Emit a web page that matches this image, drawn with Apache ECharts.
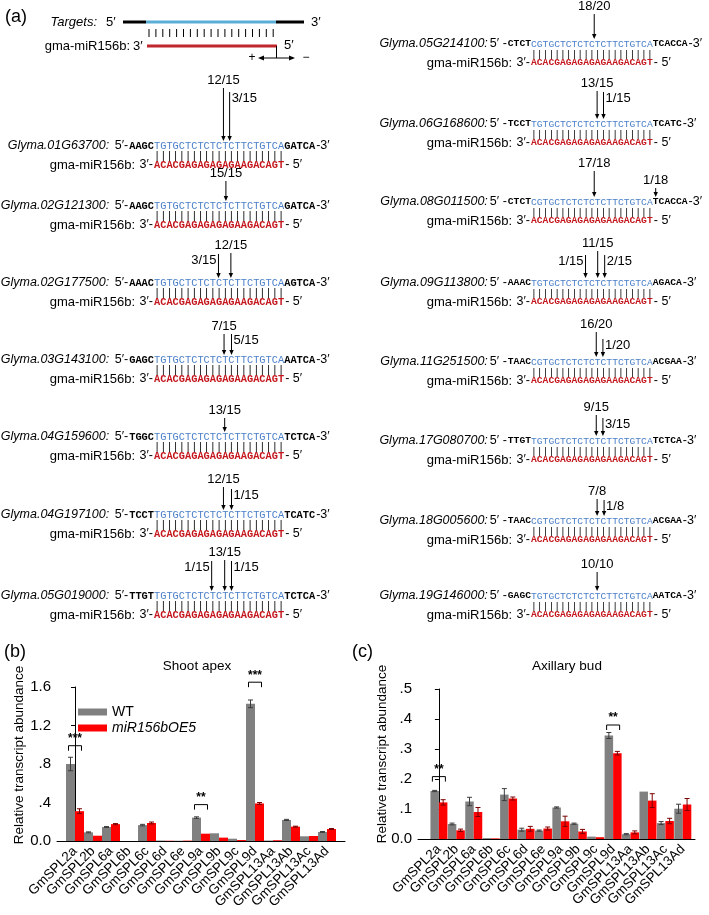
<!DOCTYPE html>
<html>
<head>
<meta charset="utf-8">
<script src="https://cdn.jsdelivr.net/npm/echarts@6/dist/echarts.min.js"></script>
<style>
  html, body {margin: 0; padding: 0; background: #fff;}
  #main {width: 709px; height: 915px;}
</style>
</head>
<body>
<div id="main"></div>
<script>
// categories and values
const genes = ['GmSPL2a', 'GmSPL2b', 'GmSPL6a', 'GmSPL6b', 'GmSPL6c', 'GmSPL6d', 'GmSPL6e', 'GmSPL9a',
               'GmSPL9b', 'GmSPL9c', 'GmSPL9d', 'GmSPL13Aa', 'GmSPL13Ab', 'GmSPL13Ac', 'GmSPL13Ad'];

// (b) shoot apex
const apexWT     = [0.80, 0.09, 0.145, 0.0, 0.165, 0.005, 0.003, 0.243, 0.08, 0.024, 1.425, 0.005, 0.219, 0.049, 0.094];
const apexWTErr  = [0.07, 0.005, 0.005, 0, 0.008, 0.001, 0.001, 0.008, 0.003, 0.002, 0.04, 0.001, 0.006, 0.003, 0.005];
const apexOE     = [0.31, 0.055, 0.175, 0.0, 0.187, 0.003, 0.004, 0.076, 0.035, 0.01, 0.39, 0.008, 0.149, 0.052, 0.125];
const apexOEErr  = [0.025, 0.004, 0.006, 0, 0.01, 0.001, 0.001, 0.004, 0.003, 0.002, 0.01, 0.001, 0.005, 0.004, 0.005];
const apexSig    = [[0, 0.99, '***'], [7, 0.378, '**'], [10, 1.65, '***']];

// (c) axillary bud
const budWT      = [0.160, 0.050, 0.125, 0.003, 0.148, 0.031, 0.028, 0.105, 0.051, 0.008, 0.345, 0.016, 0.158, 0.053, 0.101];
const budWTErr   = [0.002, 0.003, 0.014, 0.001, 0.02, 0.005, 0.002, 0.002, 0.002, 0.001, 0.01, 0.002, 0.001, 0.005, 0.015];
const budOE      = [0.122, 0.029, 0.090, 0.002, 0.135, 0.034, 0.035, 0.059, 0.025, 0.006, 0.286, 0.022, 0.128, 0.060, 0.115];
const budOEErr   = [0.009, 0.004, 0.015, 0.001, 0.005, 0.008, 0.005, 0.017, 0.007, 0.001, 0.006, 0.005, 0.023, 0.009, 0.02];
const budSig     = [[0, 0.208, '**'], [10, 0.38, '**']];

// (a) target sites
const mirSeq = 'ACACGAGAGAGAGAAGACAGT';
const leftBlocks = [
    {gene: 'Glyma.01G63700',  pre: 'AAGC', seq: 'TGTGCTCTCTCTCTTCTGTCA', post: 'GATCA', y: 146,
     cuts: [[11.2, '12/15', 'top', 80], [12.2, '3/15', 'right', 98]]},
    {gene: 'Glyma.02G121300', pre: 'AAGC', seq: 'TGTGCTCTCTCTCTTCTGTCA', post: 'GATCA', y: 206,
     cuts: [[11.6, '15/15', 'top', 173]]},
    {gene: 'Glyma.02G177500', pre: 'AAAC', seq: 'TGTGCTCTCTCTCTTCTGTCA', post: 'AGTCA', y: 283,
     cuts: [[12.4, '12/15', 'top', 245], [10.4, '3/15', 'left', 260]]},
    {gene: 'Glyma.03G143100', pre: 'GAGC', seq: 'TGTGCTCTCTCTCTTCTGTCA', post: 'AATCA', y: 360,
     cuts: [[11.3, '7/15', 'top', 326], [12.5, '5/15', 'right', 340]]},
    {gene: 'Glyma.04G159600', pre: 'TGGC', seq: 'TGTGCTCTCTCTCTTCTGTCA', post: 'TCTCA', y: 437,
     cuts: [[11.4, '13/15', 'top', 410]]},
    {gene: 'Glyma.04G197100', pre: 'TCCT', seq: 'TGTGCTCTCTCTCTTCTGTCA', post: 'TCATC', y: 515,
     cuts: [[11.2, '12/15', 'top', 479], [12.5, '1/15', 'right', 495]]},
    {gene: 'Glyma.05G019000', pre: 'TTGT', seq: 'TGTGCTCTCTCTCTTCTGTCA', post: 'TCTCA', y: 596,
     cuts: [[11.4, '13/15', 'top', 552], [9.3, '1/15', 'left', 567], [12.5, '1/15', 'right', 567]]}
];
const rightBlocks = [
    {gene: 'Glyma.05G214100', pre: 'CTCT', seq: 'CGTGCTCTCTCTCTTCTGTCA', post: 'TCACCA', y: 44,
     cuts: [[10.9, '18/20', 'top', 6]]},
    {gene: 'Glyma.06G168600', pre: 'TCCT', seq: 'TGTGCTCTCTCTCTTCTGTCA', post: 'TCATC', y: 124,
     cuts: [[11.4, '13/15', 'top', 83], [12.5, '1/15', 'right', 98]]},
    {gene: 'Glyma.08G011500', pre: 'CTCT', seq: 'CGTGCTCTCTCTCTTCTGTCA', post: 'TCACCA', y: 202,
     cuts: [[10.9, '17/18', 'top', 163], [21.5, '1/18', 'top', 180]]},
    {gene: 'Glyma.09G113800', pre: 'AAAC', seq: 'TGTGCTCTCTCTCTTCTGTCA', post: 'AGACA', y: 283,
     cuts: [[11.5, '11/15', 'top', 243], [9.4, '1/15', 'left', 261], [12.7, '2/15', 'right', 261]]},
    {gene: 'Glyma.11G251500', pre: 'TAAC', seq: 'CGTGCTCTCTCTCTTCTGTCA', post: 'ACGAA', y: 362,
     cuts: [[11.25, '16/20', 'top', 324], [12.4, '1/20', 'right', 345]]},
    {gene: 'Glyma.17G080700', pre: 'TTGT', seq: 'TGTGCTCTCTCTCTTCTGTCA', post: 'TCTCA', y: 441,
     cuts: [[11.25, '9/15', 'top', 407], [12.4, '3/15', 'right', 424]]},
    {gene: 'Glyma.18G005600', pre: 'TAAC', seq: 'CGTGCTCTCTCTCTTCTGTCA', post: 'ACGAA', y: 521,
     cuts: [[11.4, '7/8', 'top', 491], [12.6, '1/8', 'right', 506]]},
    {gene: 'Glyma.19G146000', pre: 'GAGC', seq: 'TGTGCTCTCTCTCTTCTGTCA', post: 'AATCA', y: 596,
     cuts: [[11.4, '10/10', 'top', 564]]}
];

const SANS = '"Liberation Sans", Arial, sans-serif';
const MONO = '"Liberation Mono", "DejaVu Sans Mono", monospace';
const GREY = '#808080', RED = '#ff0000';
const SEQ_BLUE = '#4a7fc8', SEQ_RED = '#c4161c';

function txt(x, y, s, o) {
    return {type: 'text', x: x, y: y, silent: true,
            style: Object.assign({text: s, fill: '#000', fontFamily: SANS, fontSize: 12.5,
                                  align: 'left', verticalAlign: 'middle'}, o || {})};
}
function ln(x1, y1, x2, y2, color, w) {
    return {type: 'line', silent: true, shape: {x1: x1, y1: y1, x2: x2, y2: y2},
            style: {stroke: color || '#000', lineWidth: w || 1}};
}
function arrowDown(x, y1, y2) {
    return [ln(x, y1, x, y2 - 4, '#000', 1),
            {type: 'polygon', silent: true, shape: {points: [[x - 2.2, y2 - 5], [x + 2.2, y2 - 5], [x, y2]]},
             style: {fill: '#000'}}];
}

// draws one alignment column
function drawBlocks(blocks, col) {
    const g = [];
    const cw = col.cw, fs = cw / 0.6, b0 = col.blueStart;
    blocks.forEach(function (b) {
        const y = b.y, yPipe = y + 10, yMir = y + 19;
        const x5 = b0 - b.pre.length * cw - 1;
        g.push(txt(x5 - col.primeGap, y, b.gene + ':', {align: 'right', fontStyle: 'italic', fontSize: 12.5}));
        g.push(txt(x5, y, col.fivePrime, {align: 'right', fontSize: 12.5}));
        g.push(txt(b0, y, b.pre, {align: 'right', fontFamily: MONO, fontWeight: 'bold', fontSize: fs}));
        g.push(txt(b0, y, b.seq, {fontFamily: MONO, fontSize: fs, fill: SEQ_BLUE}));
        g.push(txt(b0 + b.seq.length * cw, y, b.post, {fontFamily: MONO, fontWeight: 'bold', fontSize: fs}));
        g.push(txt(b0 + (b.seq.length + b.post.length) * cw + 1, y, '-3′', {fontSize: 12.5}));
        g.push(txt(b0, yPipe, '|'.repeat(b.seq.length), {fontFamily: MONO, fontSize: fs}));
        g.push(txt(b0 - 19, yMir, 'gma-miR156b:', {align: 'right', fontSize: 13}));
        g.push(txt(b0 - 1, yMir, '3′-', {align: 'right', fontSize: 12.5}));
        g.push(txt(b0, yMir, mirSeq, {fontFamily: MONO, fontWeight: 'bold', fontSize: fs, fill: SEQ_RED}));
        g.push(txt(b0 + mirSeq.length * cw + 1, yMir, '- 5′', {fontSize: 12.5}));
        b.cuts.forEach(function (c) {
            const ax = b0 + c[0] * cw;
            if (c[2] === 'top') {
                g.push(txt(ax, c[3], c[1], {align: 'center', fontSize: 13}));
                g.push.apply(g, arrowDown(ax, c[3] + 8, y - 5));
            } else {
                g.push(txt(c[2] === 'right' ? ax + 2 : ax - 2, c[3], c[1],
                           {align: c[2] === 'right' ? 'left' : 'right', fontSize: 13}));
                g.push.apply(g, arrowDown(ax, c[3] - 6, y - 5));
            }
        });
    });
    return g;
}

// schematic at top of (a)
function drawScheme() {
    const g = [];
    g.push(txt(5, 17, '(a)', {fontSize: 18}));
    g.push(txt(97, 22, 'Targets:', {align: 'right', fontStyle: 'italic', fontSize: 13}));
    g.push(txt(106, 22, '5′', {fontSize: 13}));
    g.push(ln(123, 22, 146, 22, '#000', 3));
    g.push(ln(146, 22, 276, 22, '#5aaed6', 3));
    g.push(ln(276, 22, 304, 22, '#000', 3));
    g.push(txt(311, 22, '3′', {fontSize: 13}));
    for (let i = 0; i < 19; i++) {
        const x = 149 + i * 6.9;
        g.push(ln(x, 29, x, 37, '#000', 1));
    }
    g.push(txt(130, 46, 'gma-miR156b:', {align: 'right', fontSize: 13}));
    g.push(txt(133, 46, '3′', {fontSize: 13}));
    g.push(ln(147, 46, 277, 46, '#c0272d', 3));
    g.push(txt(284, 45, '5′', {fontSize: 13}));
    g.push(ln(276.5, 46, 276.5, 58, '#000', 1));
    g.push(ln(260, 58, 293, 58, '#000', 1));
    g.push({type: 'polygon', silent: true, shape: {points: [[258, 58], [264, 55.5], [264, 60.5]]}, style: {fill: '#000'}});
    g.push({type: 'polygon', silent: true, shape: {points: [[295, 58], [289, 55.5], [289, 60.5]]}, style: {fill: '#000'}});
    g.push(txt(252, 58, '+', {align: 'center', fontSize: 12}));
    g.push(txt(306, 58, '−', {align: 'center', fontSize: 12}));
    return g;
}

function catLabel(v) {
    const r = Math.round(v);
    if (Math.abs(v - r) > 1e-6 || r < 0 || r >= genes.length) return '';
    return genes[r];
}
function tickFmt(v) {
    if (v === 0) return '0.0';
    const s = (Math.round(v * 10) / 10).toFixed(1);
    return s.charAt(0) === '0' ? s.slice(1) : s;
}

function errSeries(means, errs, axis, off, color) {
    return {
        type: 'custom', xAxisIndex: axis, yAxisIndex: axis, z: 5, clip: false,
        data: means.map(function (v, i) { return [i, v]; }),
        renderItem: function (params, api) {
            const i = params.dataIndex, m = means[i], e = errs[i];
            if (!e || e < 0.0015 * (axis === 0 ? 3 : 1)) return {type: 'group', children: []};
            const top = api.coord([i, m + e]), bot = api.coord([i, Math.max(0, m - e)]);
            const x = top[0] + off;
            const st = {stroke: color, lineWidth: 1};
            return {type: 'group', children: [
                {type: 'line', shape: {x1: x, y1: top[1], x2: x, y2: bot[1]}, style: st},
                {type: 'line', shape: {x1: x - 2.5, y1: top[1], x2: x + 2.5, y2: top[1]}, style: st},
                {type: 'line', shape: {x1: x - 2.5, y1: bot[1], x2: x + 2.5, y2: bot[1]}, style: st}
            ]};
        }
    };
}
function sigSeries(sig, axis) {
    return {
        type: 'custom', xAxisIndex: axis, yAxisIndex: axis, z: 6, clip: false,
        data: sig.map(function (s) { return [s[0], s[1]]; }),
        renderItem: function (params, api) {
            const p = api.coord([api.value(0), api.value(1)]);
            const hw = 6.5;
            return {type: 'group', children: [
                {type: 'polyline', shape: {points: [[p[0] - hw, p[1] + 5], [p[0] - hw, p[1]], [p[0] + hw, p[1]], [p[0] + hw, p[1] + 5]]},
                 style: {stroke: '#000', lineWidth: 1, fill: null}},
                {type: 'text', x: p[0], y: p[1] - 1,
                 style: {text: sig[params.dataIndex][2], fill: '#000', fontFamily: SANS, fontSize: 12,
                         fontWeight: 'bold', align: 'center', verticalAlign: 'bottom'}}
            ]};
        }
    };
}
function barSeries(name, vals, axis, color, w) {
    return {type: 'bar', name: name, xAxisIndex: axis, yAxisIndex: axis, barWidth: w, barGap: '0%',
            itemStyle: {color: color}, data: vals.map(function (v, i) { return [i, v]; })};
}

const xAxisBase = {
    type: 'value', interval: 1, splitLine: {show: false}, axisTick: {show: false},
    axisLine: {onZero: false, lineStyle: {color: '#000', width: 1}},
    axisLabel: {formatter: catLabel, rotate: 45, fontSize: 13.5, color: '#000', margin: 8, fontFamily: SANS}
};
const yAxisBase = {
    type: 'value', min: 0, splitLine: {show: false},
    axisLine: {show: true, lineStyle: {color: '#000', width: 1}},
    axisTick: {show: true, length: 4, lineStyle: {color: '#000'}},
    axisLabel: {formatter: tickFmt, fontSize: 15, color: '#000', margin: 6, fontFamily: SANS}
};

const chart = echarts.init(document.getElementById('main'), null, {renderer: 'canvas'});

let option = {
    animation: false,
    backgroundColor: '#fff',
    textStyle: {fontFamily: SANS},
    grid: [
        {left: 57, top: 687, width: 288, height: 154},
        {left: 418, top: 689, width: 277, height: 150}
    ],
    xAxis: [
        Object.assign({}, xAxisBase, {gridIndex: 0, min: -1, max: 15}),
        Object.assign({}, xAxisBase, {gridIndex: 1, min: -1.2, max: 14.7, interval: 0.1})
    ],
    yAxis: [
        Object.assign({}, yAxisBase, {gridIndex: 0, max: 1.6, interval: 0.4}),
        Object.assign({}, yAxisBase, {gridIndex: 1, max: 0.5, interval: 0.1})
    ],
    legend: {
        data: ['WT', 'miR156bOE5'], orient: 'vertical', left: 73, top: 700,
        itemWidth: 29, itemHeight: 7, itemGap: 2, icon: 'rect', selectedMode: false,
        textStyle: {fontSize: 14, color: '#000', fontFamily: SANS, rich: {i: {fontStyle: 'italic', fontSize: 14}}},
        formatter: function (n) { return n === 'WT' ? n : '{i|' + n + '}'; }
    },
    series: [
        barSeries('WT', apexWT, 0, GREY, 9),
        barSeries('miR156bOE5', apexOE, 0, RED, 9),
        errSeries(apexWT, apexWTErr, 0, -4.5, '#3c3c3c'),
        errSeries(apexOE, apexOEErr, 0, 4.5, '#7a0000'),
        sigSeries(apexSig, 0),
        barSeries('WT', budWT, 1, GREY, 8.5),
        barSeries('miR156bOE5', budOE, 1, RED, 8.5),
        errSeries(budWT, budWTErr, 1, -4.25, '#3c3c3c'),
        errSeries(budOE, budOEErr, 1, 4.25, '#7a0000'),
        sigSeries(budSig, 1)
    ],
    graphic: [].concat(
        drawScheme(),
        drawBlocks(leftBlocks, {blueStart: 154, cw: 6.2, primeGap: 19, fivePrime: '5′-'}),
        drawBlocks(rightBlocks, {blueStart: 531, cw: 5.8, primeGap: 19, fivePrime: '5′ -'}),
        [
            txt(4, 652, '(b)', {fontSize: 18}),
            txt(352, 652, '(c)', {fontSize: 18}),
            txt(197, 666, 'Shoot apex', {align: 'center', fontSize: 13.5}),
            txt(567, 666, 'Axillary bud', {align: 'center', fontSize: 13.5}),
            {type: 'text', x: 19, y: 755, rotation: Math.PI / 2, silent: true,
             style: {text: 'Relative transcript abundance', fill: '#000', fontFamily: SANS, fontSize: 13.5,
                     align: 'center', verticalAlign: 'middle'}},
            {type: 'text', x: 382, y: 754, rotation: Math.PI / 2, silent: true,
             style: {text: 'Relative transcript abundance', fill: '#000', fontFamily: SANS, fontSize: 13.5,
                     align: 'center', verticalAlign: 'middle'}}
        ]
    )
};

chart.setOption(option);

window.onresize = function () {
    chart.resize();
};
</script>
</body>
</html>
